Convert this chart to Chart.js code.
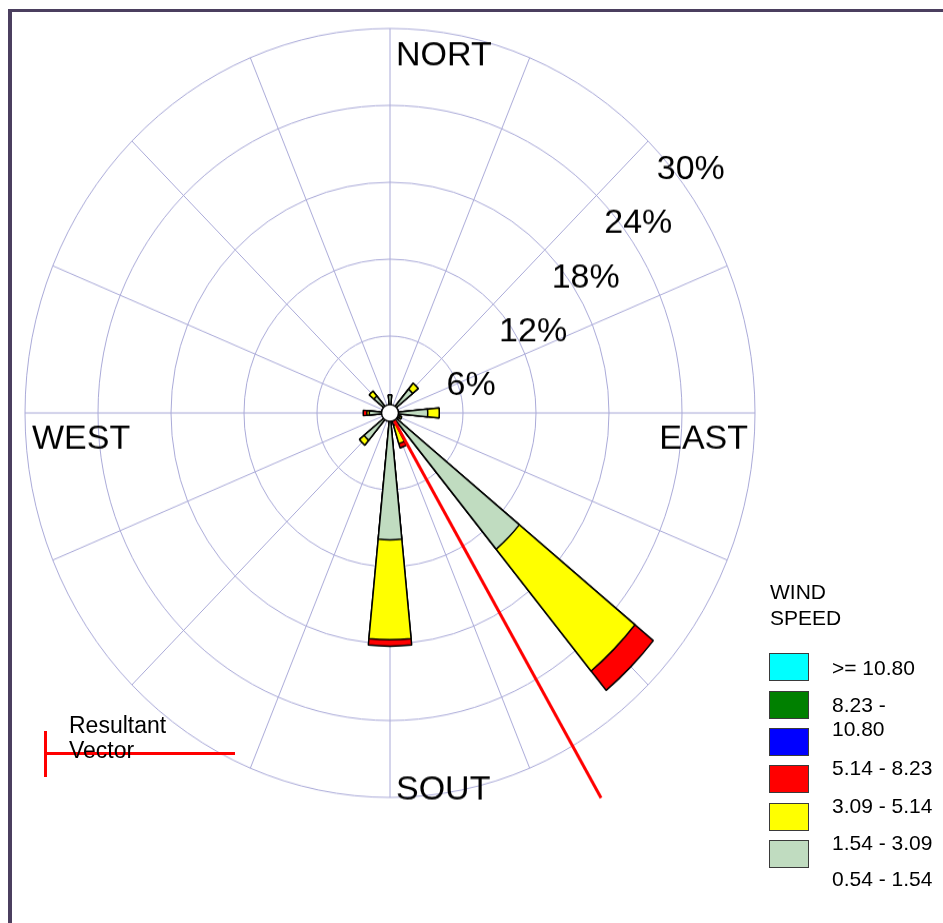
<!DOCTYPE html>
<html>
<head>
<meta charset="utf-8">
<title>Wind Rose</title>
<script src="https://cdn.jsdelivr.net/npm/chart.js@4.4.0/dist/chart.umd.min.js"></script>
<style>
    body { margin: 0; background: #fff; font-family: "Liberation Sans", Arial, sans-serif; }
    #page { position: relative; width: 943px; height: 923px; overflow: hidden; }
    /* the rose is slightly taller than wide in the original, so stretch the canvas */
    #roseWrap { position: absolute; left: 0; top: 0; width: 943px; height: 800px; transform: scaleY(1.0534); transform-origin: 0 0; }
    #frame { position: absolute; left: 8px; top: 9px; right: -20px; bottom: -20px; border-top: 3px solid #4b3f5f; border-left: 4px solid #4b3f5f; }
    .txt { position: absolute; white-space: nowrap; color: #000; line-height: 1; }
    .box { position: absolute; width: 38px; height: 26px; border: 1px solid #3a3a3a; }
    .vec { position: absolute; background: #ff0000; }
</style>
</head>
<body>
<div id="page">
    <div id="roseWrap"><canvas id="windRose"></canvas></div>
    <div id="frame"></div>
    <div class="vec" style="left:44px;top:731px;width:2.5px;height:46px"></div>
    <div class="vec" style="left:45px;top:752px;width:190px;height:2.5px"></div>
    <div id="labels"></div>
</div>
<script>
// Directions, clockwise from north
const directions = ['N', 'NNE', 'NE', 'ENE', 'E', 'ESE', 'SE', 'SSE', 'S', 'SSW', 'SW', 'WSW', 'W', 'WNW', 'NW', 'NNW'];

// Frequency (%) per wind speed class and direction
const speed154to309 = [1.4, 0, 2.4, 0, 3.1, 0.8, 13.75, 1.0, 9.9, 0, 2.75, 0, 1.7, 0, 1.7, 0];
const speed309to514 = [0, 0, 0.6, 0, 0.95, 0.2, 12.3, 1.5, 7.8, 0, 0.5, 0, 0.2, 0, 0.5, 0];
const speed514to823 = [0, 0, 0, 0, 0, 0, 1.95, 0.35, 0.5, 0, 0, 0, 0.3, 0, 0, 0];

// Ring labels (%)
const ringTicks = [6, 12, 18, 24, 30];
const compassLabels = ['NORT', 'EAST', 'SOUT', 'WEST'];

// Resultant vector
const resultantDirection = 150; // degrees from north
const resultantLength = 34.7;   // same units as the rings

// Legend
const legendTitle = ['WIND', 'SPEED'];
const legendColors = ['#00ffff', '#008000', '#0000ff', '#ff0000', '#ffff00', '#c0dcc0'];
const legendLabels = ['>= 10.80', '8.23 -', '10.80', '5.14 - 8.23', '3.09 - 5.14', '1.54 - 3.09', '0.54 - 1.54'];

const STRETCH = 1.0534;
const SLOT = 360 / directions.length / 2; // petal width in degrees
const FONT = '"Liberation Sans", Arial, sans-serif';
const GRID = '#aaaad8';

// stack the classes on top of each other
function cumulate(layers) {
    const out = [];
    let running = directions.map(() => 0);
    layers.forEach(layer => {
        running = running.map((v, i) => v + layer[i]);
        out.push(running.slice());
    });
    return out;
}

// every petal gets an empty gap in front of it so petals sit centred on the spokes
function withGaps(values) {
    const out = [];
    values.forEach(v => out.push(0, v));
    return out;
}

const stacked = cumulate([speed154to309, speed309to514, speed514to823]);
const classColors = ['#c0dcc0', '#ffff00', '#ff0000'];

function petalDataset(values, color) {
    return {
        data: withGaps(values),
        backgroundColor: color,
        borderColor: '#000',
        borderWidth: ctx => (ctx.dataIndex % 2 ? 1.5 : 0),
        angle: ctx => (ctx.dataIndex === 0 ? -SLOT / 2 : SLOT)
    };
}

// write text in page pixels, relative to the rose centre, undoing the canvas stretch
function pageText(ctx, scale, text, dx, dy, align) {
    ctx.save();
    ctx.translate(scale.xCenter + dx, scale.yCenter + dy / STRETCH);
    ctx.scale(1, 1 / STRETCH);
    ctx.textAlign = align;
    ctx.textBaseline = 'alphabetic';
    ctx.fillText(text, 0, 0);
    ctx.restore();
}

const roseDecor = {
    id: 'roseDecor',
    afterDatasetsDraw(chart) {
        const r = chart.scales.r;
        const ctx = chart.ctx;
        const cx = r.xCenter;
        const cy = r.yCenter;

        // resultant vector
        const d = r.getDistanceFromCenterForValue(resultantLength);
        const a = resultantDirection * Math.PI / 180;
        ctx.save();
        ctx.strokeStyle = '#ff0000';
        ctx.lineWidth = 3;
        ctx.beginPath();
        ctx.moveTo(cx, cy);
        ctx.lineTo(cx + d * Math.sin(a), cy - d * Math.cos(a));
        ctx.stroke();

        // calm circle
        ctx.translate(cx, cy);
        ctx.scale(1, 1 / STRETCH);
        ctx.beginPath();
        ctx.arc(0, 0, 8.5, 0, Math.PI * 2);
        ctx.fillStyle = '#fff';
        ctx.fill();
        ctx.lineWidth = 1.5;
        ctx.strokeStyle = '#000';
        ctx.stroke();
        ctx.restore();

        // ring labels
        ctx.save();
        ctx.fillStyle = '#000';
        ctx.font = '34px ' + FONT;
        ringTicks.forEach(v => {
            const dist = r.getDistanceFromCenterForValue(v);
            pageText(ctx, r, v + '%', 4 + 0.72 * dist, 36.3 - 0.74 * dist, 'left');
        });

        // compass labels
        pageText(ctx, r, compassLabels[0], 6, -347.5, 'left');
        pageText(ctx, r, compassLabels[1], 358, 36.3, 'right');
        pageText(ctx, r, compassLabels[2], 6, 386.3, 'left');
        pageText(ctx, r, compassLabels[3], -358, 36.3, 'left');
        ctx.restore();
    }
};

new Chart(document.getElementById('windRose'), {
    type: 'polarArea',
    data: {
        labels: directions,
        datasets: stacked.map((values, i) => petalDataset(values, classColors[i]))
    },
    options: {
        responsive: true,
        maintainAspectRatio: false,
        animation: false,
        layout: { padding: { left: 25, right: 188, top: 27, bottom: 43 } },
        plugins: {
            legend: { display: false },
            tooltip: { enabled: false }
        },
        scales: {
            r: {
                min: 0,
                max: ringTicks[ringTicks.length - 1],
                startAngle: 0,
                ticks: { display: false, stepSize: ringTicks[0] },
                grid: { circular: true, color: GRID, lineWidth: 1 },
                angleLines: { display: true, color: GRID, lineWidth: 1 },
                pointLabels: { display: false }
            }
        }
    },
    plugins: [roseDecor]
});

// Legend and resultant vector key as plain text
const holder = document.getElementById('labels');

function place(text, left, baseline, size) {
    const el = document.createElement('div');
    el.className = 'txt';
    el.textContent = text;
    el.style.left = left + 'px';
    el.style.top = (baseline - 0.8465 * size) + 'px';
    el.style.fontSize = size + 'px';
    holder.appendChild(el);
}

place(legendTitle[0], 770, 599, 21);
place(legendTitle[1], 770, 625, 21);

const boxTops = [653, 690.5, 728, 765, 802.5, 840];
legendColors.forEach((c, i) => {
    const b = document.createElement('div');
    b.className = 'box';
    b.style.left = '769px';
    b.style.top = boxTops[i] + 'px';
    b.style.background = c;
    holder.appendChild(b);
});

const labelBaselines = [675, 711.5, 735.5, 775, 812.5, 850, 886];
legendLabels.forEach((t, i) => place(t, 832, labelBaselines[i], 21));

place('Resultant', 69, 733, 23);
place('Vector', 69, 758, 23);
</script>
</body>
</html>
